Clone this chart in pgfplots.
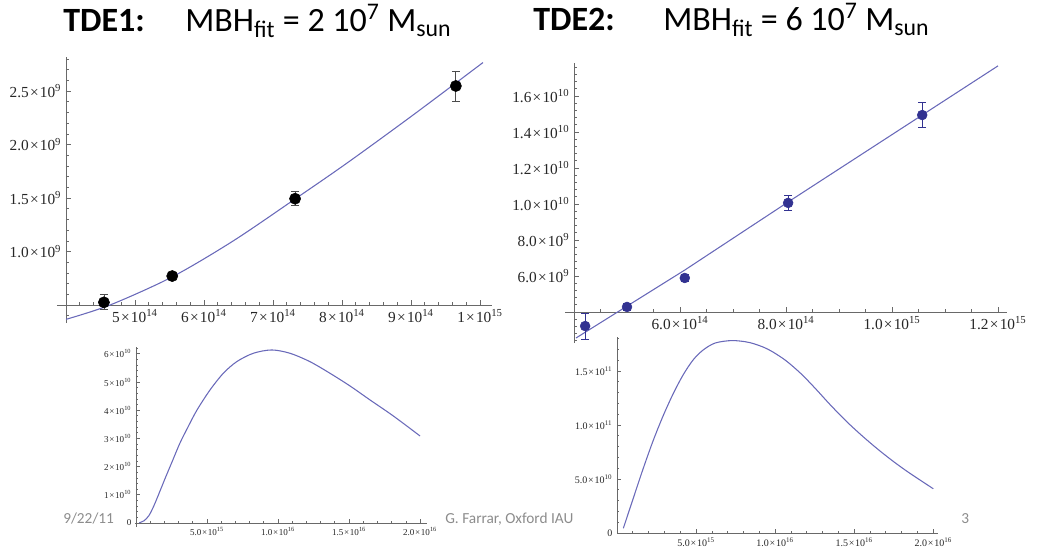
\documentclass[border=0pt]{standalone}
\usepackage{pgfplots}
\pgfplotsset{compat=1.18}
\usepackage{pgfplotstable}
\usepackage{fontspec}
\setmainfont{Carlito}
\newfontfamily\tfont{Liberation Serif}
\definecolor{curve}{RGB}{105,105,185}
\definecolor{axgray}{RGB}{105,105,105}
\definecolor{ptblue}{RGB}{50,50,145}
\definecolor{foot}{RGB}{140,140,140}
\newcommand{\tl}[2]{#1\kern.08em×\kern.08em10\textsuperscript{#2}}

% TDE1 data points: x, y, error
\pgfplotstableread{
x y e
4.55e14 0.525e9 0.07e9
5.54e14 0.771e9 0.035e9
7.32e14 1.494e9 0.065e9
9.65e14 2.548e9 0.14e9
}\tdeonepts
\pgfplotstableread{
x y
4.000e14 0.366e9
4.638e14 0.500e9
5.536e14 0.762e9
6.420e14 1.098e9
7.319e14 1.491e9
8.072e14 1.827e9
9.029e14 2.276e9
1.0043e15 2.767e9
}\tdeonecurve
% TDE2 data points
\pgfplotstableread{
x y e
4.21e14 3.22e9 0.72e9
5.00e14 4.28e9 0.2e9
6.09e14 5.89e9 0.2e9
8.04e14 1.006e10 0.4e9
1.057e15 1.494e10 0.69e9
}\tdetwopts
\pgfplotstableread{
x y
4.038e14 2.556e9
6.09e14 6.33e9
8.04e14 1.011e10
1.2e15 1.767e10
}\tdetwoline
% bottom-left curve
\pgfplotstableread{
x y
2.32e14 1.06e8
5.63e14 7.8e8
9.15e14 2.66e9
1.268e15 6.2e9
1.62e15 1.046e10
2.042e15 1.571e10
2.535e15 2.163e10
3.098e15 2.837e10
3.662e15 3.404e10
4.296e15 4.007e10
5.211e15 4.716e10
6.148e15 5.308e10
7.091e15 5.72e10
8.26e15 6.018e10
9.556e15 6.135e10
1.084e16 6.018e10
1.225e16 5.72e10
1.366e16 5.308e10
1.507e16 4.858e10
1.648e16 4.362e10
1.812e16 3.794e10
2.0e16 3.085e10
}\botleft
% bottom-right curve
\pgfplotstableread{
x y
3.99e14 4.35e9
1.013e15 3.148e10
1.646e15 5.926e10
2.278e15 8.52e10
2.911e15 1.083e11
3.544e15 1.287e11
4.177e15 1.463e11
4.810e15 1.602e11
5.443e15 1.694e11
6.202e15 1.759e11
7.278e15 1.782e11
8.4e15 1.763e11
9.5e15 1.705e11
1.06e16 1.605e11
1.16e16 1.48e11
1.25e16 1.345e11
1.35e16 1.185e11
1.45e16 1.035e11
1.55e16 0.90e11
1.65e16 0.775e11
1.75e16 0.66e11
1.85e16 0.555e11
2.0e16 0.41e11
}\botright

\pgfplotsset{mstyle/.style={scale only axis, axis lines=middle,
  axis line style={-, draw=axgray, line width=0.6pt},
  tick style={axgray, line width=0.5pt}, tick align=inside,
  major tick length=4pt, minor tick length=2.2pt, clip=false,
  ticklabel style={text=black!85},
  hide obscured x ticks=false, hide obscured y ticks=false}}

\begin{document}
\begin{tikzpicture}
\useasboundingbox (0pt,0pt) rectangle (777.75pt,412.5pt);

\begin{scope}[x=0.75pt,y=0.75pt]
% footer
\node[anchor=base west, inner sep=0, text=foot, font=\fontsize{11.5}{13}\selectfont] at (63,27) {9/22/11};
\node[anchor=base west, inner sep=0, text=foot, font=\fontsize{11.5}{13}\selectfont] at (445,27) {G. Farrar, Oxford IAU};
\node[anchor=base west, inner sep=0, text=foot, font=\fontsize{11.5}{13}\selectfont] at (961,27) {3};
% titles
\node[anchor=base west, inner sep=0, font=\fontsize{25.5}{30}\selectfont\bfseries] at (63,518) {TDE1:};
\node[anchor=base west, inner sep=0, font=\fontsize{25.5}{30}\selectfont] at (185,518) {MBH\textsubscript{fit} = 2 10\textsuperscript{7} M\textsubscript{sun}};
\node[anchor=base west, inner sep=0, font=\fontsize{25.5}{30}\selectfont\bfseries] at (533,519) {TDE2:};
\node[anchor=base west, inner sep=0, font=\fontsize{25.5}{30}\selectfont] at (663,519) {MBH\textsubscript{fit} = 6 10\textsuperscript{7} M\textsubscript{sun}};
\end{scope}

% top-left
\begin{axis}[mstyle, at={(42.75pt,170.25pt)}, anchor=south west, width=326.25pt, height=199.5pt,
  xmin=-0.130, xmax=6.174, ymin=-0.168, ymax=2.319,
  xtick={1,2,3,4,5,6},
  xticklabels={{\tl{5}{14}},{\tl{6}{14}},{\tl{7}{14}},{\tl{8}{14}},{\tl{9}{14}},{\tl{1}{15}}},
  ytick={0.5,1,1.5,2},
  yticklabels={{\tl{1.0}{9}},{\tl{1.5}{9}},{\tl{2.0}{9}},{\tl{2.5}{9}}},
  minor xtick={0.2,0.4,...,6.01},
  minor ytick={-0.1,0.1,0.2,...,2.31},
  ticklabel style={font=\tfont\fontsize{11.5}{12}\selectfont}]
\addplot[curve, line width=0.8pt, smooth, tension=0.5] table[x expr=\thisrow{x}/1e14-4, y expr=\thisrow{y}/1e9-0.5]{\tdeonecurve};
\addplot[only marks, mark=*, mark size=4.2pt, black,
  error bars/.cd, y dir=both, y explicit,
  error bar style={black!70, line width=0.6pt},
  error mark options={rotate=90, mark size=3pt, black!70, line width=0.6pt}]
  table[x expr=\thisrow{x}/1e14-4, y expr=\thisrow{y}/1e9-0.5, y error expr=\thisrow{e}/1e9]{\tdeonepts};
\end{axis}

% top-right
\begin{axis}[mstyle, at={(423.75pt,155.25pt)}, anchor=south west, width=331.5pt, height=210pt,
  xmin=-0.170, xmax=8.17, ymin=-1.722, ymax=13.83,
  xtick={2,4,6,8},
  xticklabels={{\tl{6.0}{14}},{\tl{8.0}{14}},{\tl{1.0}{15}},{\tl{1.2}{15}}},
  ytick={2,4,6,8,10,12},
  yticklabels={{\tl{6.0}{9}},{\tl{8.0}{9}},{\tl{1.0}{10}},{\tl{1.2}{10}},{\tl{1.4}{10}},{\tl{1.6}{10}}},
  minor xtick={0.5,1,...,8.01},
  minor ytick={-1.6,-1.2,-0.8,-0.4,0.4,0.8,...,13.61},
  ticklabel style={font=\tfont\fontsize{11.5}{12}\selectfont}]
\addplot[curve, line width=0.8pt] table[x expr=\thisrow{x}/1e14-4, y expr=\thisrow{y}/1e9-4]{\tdetwoline};
\addplot[only marks, mark=*, mark size=3.7pt, ptblue,
  error bars/.cd, y dir=both, y explicit,
  error bar style={ptblue, line width=0.6pt},
  error mark options={rotate=90, mark size=3pt, ptblue, line width=0.6pt}]
  table[x expr=\thisrow{x}/1e14-4, y expr=\thisrow{y}/1e9-4, y error expr=\thisrow{e}/1e9]{\tdetwopts};
\end{axis}

% bottom-left
\begin{axis}[mstyle, at={(101.25pt,17.25pt)}, anchor=south west, width=219pt, height=135pt,
  xmin=-0.07, xmax=20.49, ymin=-0.142, ymax=6.24,
  xtick={5,10,15,20},
  xticklabels={{\tl{5.0}{15}},{\tl{1.0}{16}},{\tl{1.5}{16}},{\tl{2.0}{16}}},
  ytick={0,1,2,3,4,5,6},
  yticklabels={0,{\tl{1}{10}},{\tl{2}{10}},{\tl{3}{10}},{\tl{4}{10}},{\tl{5}{10}},{\tl{6}{10}}},
  minor xtick={1,2,...,20},
  minor ytick={0.2,0.4,...,6.21},
  major tick length=3pt, minor tick length=1.8pt,
  ticklabel style={font=\tfont\fontsize{6.8}{7}\selectfont}]
\addplot[curve, line width=0.8pt, smooth, tension=0.5] table[x expr=\thisrow{x}/1e15, y expr=\thisrow{y}/1e10]{\botleft};
\end{axis}

% bottom-right
\begin{axis}[mstyle, at={(462.75pt,12.75pt)}, anchor=south west, width=240.75pt, height=147pt,
  xmin=0, xmax=20.3, ymin=0, ymax=18.15,
  xtick={5,10,15,20},
  xticklabels={{\tl{5.0}{15}},{\tl{1.0}{16}},{\tl{1.5}{16}},{\tl{2.0}{16}}},
  ytick={0,5,10,15},
  yticklabels={0,{\tl{5.0}{10}},{\tl{1.0}{11}},{\tl{1.5}{11}}},
  minor xtick={1,2,...,20},
  minor ytick={1,2,...,18},
  major tick length=3pt, minor tick length=1.8pt,
  ticklabel style={font=\tfont\fontsize{7.5}{8}\selectfont}]
\addplot[curve, line width=0.8pt, smooth, tension=0.5] table[x expr=\thisrow{x}/1e15, y expr=\thisrow{y}/1e10]{\botright};
\end{axis}
\end{tikzpicture}
\end{document}
